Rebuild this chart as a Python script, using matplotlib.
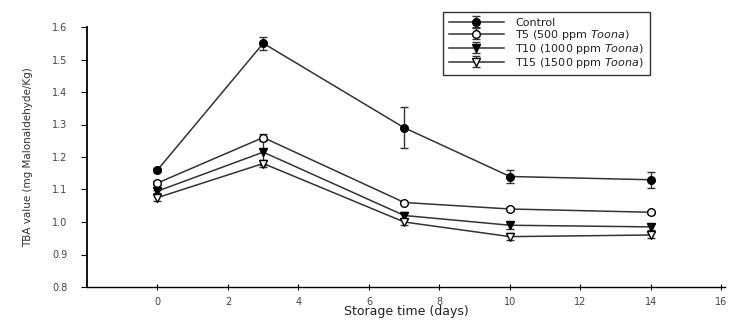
import matplotlib
matplotlib.use('Agg')
import matplotlib.pyplot as plt

# storage days
days = [0, 3, 7, 10, 14]

# TBA values (mg malonaldehyde/kg)
control = [1.16, 1.55, 1.29, 1.14, 1.13]
control_err = [0.005, 0.02, 0.063, 0.02, 0.025]
t5 = [1.12, 1.26, 1.06, 1.04, 1.03]
t5_err = [0.005, 0.01, 0.005, 0.005, 0.005]
t10 = [1.095, 1.215, 1.02, 0.99, 0.985]
t10_err = [0.005, 0.04, 0.01, 0.01, 0.01]
t15 = [1.075, 1.18, 1.0, 0.955, 0.96]
t15_err = [0.01, 0.01, 0.01, 0.01, 0.01]

labels = ['Control',
          'T5 (500 ppm $\\it{Toona}$)',
          'T10 (1000 ppm $\\it{Toona}$)',
          'T15 (1500 ppm $\\it{Toona}$)']

xticks = [0, 2, 4, 6, 8, 10, 12, 14, 16]
yticks = [0.8, 0.9, 1.0, 1.1, 1.2, 1.3, 1.4, 1.5, 1.6]

fig = plt.figure(figsize=(7.29, 3.22), dpi=100)
ax = fig.add_axes([87/729, 1 - 287/322, (725 - 87)/729, (287 - 27)/322])

lc = '#333333'
kw = dict(color=lc, lw=1.1, capsize=3, elinewidth=1.0, ms=5.5, mew=1.0)
ax.errorbar(days, control, yerr=control_err, fmt='-o', mfc='black', mec='black', label=labels[0], **kw)
ax.errorbar(days, t5, yerr=t5_err, fmt='-o', mfc='white', mec='black', label=labels[1], **kw)
ax.errorbar(days, t10, yerr=t10_err, fmt='-v', mfc='black', mec='black', label=labels[2], **kw)
ax.errorbar(days, t15, yerr=t15_err, fmt='-v', mfc='white', mec='black', label=labels[3], **kw)

ax.set_xlim(-2, 16.1)
ax.set_ylim(0.8, 1.6)
ax.set_xticks(xticks)
ax.set_yticks(yticks)
ax.set_xticklabels([str(t) for t in xticks], fontsize=7, color='#444444')
ax.set_yticklabels(['%.1f' % t for t in yticks], fontsize=7, color='#444444')
ax.spines['top'].set_visible(False)
ax.spines['right'].set_visible(False)
ax.spines['left'].set_linewidth(1.3)
ax.spines['bottom'].set_linewidth(1.0)
ax.tick_params(axis='y', direction='out', length=4, pad=10)
ax.tick_params(axis='x', direction='inout', length=4, pad=5)

fig.text(406/729, 1 - 312/322, 'Storage time (days)', fontsize=9, color='#222222',
         ha='center', va='center')
ax.set_ylabel('TBA value (mg Malonaldehyde/Kg)', fontsize=7.5, color='#333333', labelpad=14)

leg = ax.legend(loc='upper left', bbox_to_anchor=(443/729, 1 - 12/322),
                bbox_transform=fig.transFigure, fontsize=8, frameon=True,
                fancybox=False, edgecolor='black', handlelength=5.0,
                labelspacing=0.0, borderpad=0.5, handletextpad=1.0,
                borderaxespad=0)
leg.get_frame().set_linewidth(1.0)
for t in leg.get_texts():
    t.set_color('#222222')

plt.savefig('out.png', dpi=100)
